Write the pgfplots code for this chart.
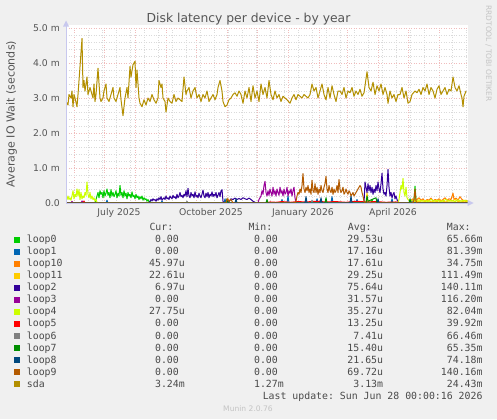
\documentclass[border=0pt]{standalone}
\usepackage{pgfplots}
\pgfplotsset{compat=1.18}
\usepackage{fontspec}
\setmainfont{DejaVu Sans}
\setmonofont{DejaVu Sans Mono}
\definecolor{bgc}{HTML}{F0F0F0}
\definecolor{majg}{HTML}{F0BCBC}
\definecolor{ming}{HTML}{DADADA}
\definecolor{axc}{HTML}{C8C8EE}
\definecolor{txc}{HTML}{555555}
\definecolor{lgc}{HTML}{4A4A4A}
\definecolor{faint}{HTML}{C4C4C4}
\definecolor{cA}{HTML}{00CC00}
\definecolor{cB}{HTML}{0066B3}
\definecolor{cC}{HTML}{FF8000}
\definecolor{cD}{HTML}{FFCC00}
\definecolor{cE}{HTML}{330099}
\definecolor{cF}{HTML}{990099}
\definecolor{cG}{HTML}{CCFF00}
\definecolor{cH}{HTML}{FF0000}
\definecolor{cI}{HTML}{808080}
\definecolor{cJ}{HTML}{008F00}
\definecolor{cK}{HTML}{00487D}
\definecolor{cL}{HTML}{B35A00}
\definecolor{cM}{HTML}{B38F00}
\tikzset{lg/.style={font=\ttfamily\fontsize{9.9}{12}\selectfont, inner sep=0pt, text=lgc}}
\newcommand\legrow[7]{%
  \fill[#2] (14,{#1-6}) rectangle (20,{#1});
  \node[lg,anchor=base west] at (26.7,#1) {#3};
  \node[lg,anchor=base east] at (185,#1) {#4};
  \node[lg,anchor=base east] at (284,#1) {#5};
  \node[lg,anchor=base east] at (383.3,#1) {#6};
  \node[lg,anchor=base east] at (482.7,#1) {#7};
}
\newcommand\z{0.00\phantom{u}}
\begin{document}
\begin{tikzpicture}
\begin{scope}[x=1bp,y=-1bp,yshift=419bp]
  \fill[bgc] (0,0) rectangle (497,419);
  \fill[white] (66,25) rectangle (468,203);
\end{scope}
\begin{axis}[
  at={(66bp,216bp)}, anchor=south west,
  scale only axis, width=402bp, height=175bp,
  xmin=0, xmax=402, ymin=0, ymax=5,
  axis line style={draw=none},
  tick style={draw=none},
  major tick length=0pt, minor tick length=0pt,
  xtick={8,38,69,100,130,161,191,222,253,281,312,342,373},
  xticklabels={},
  minor xtick={22,36,50,64,78,92,106,120,134,148,162,176,190,204,218,232,246,260,274,288,302,316,330,344,358,386,400},
  extra x ticks={53,145,237,327},
  extra x tick labels={July 2025,October 2025,January 2026,April 2026},
  extra x tick style={grid=none},
  ytick={0,1,2,3,4,5},
  yticklabels={0.0\hspace{7bp},1.0 m,2.0 m,3.0 m,4.0 m,5.0 m},
  minor ytick={0.2,0.4,0.6,0.8,1.2,1.4,1.6,1.8,2.2,2.4,2.6,2.8,3.2,3.4,3.6,3.8,4.2,4.4,4.6,4.8},
  grid=both,
  major grid style={draw=majg, line width=0.8bp, dash pattern=on 1bp off 1.5bp},
  minor grid style={draw=ming, line width=0.8bp, dash pattern=on 1bp off 1.5bp},
  xticklabel style={font=\fontsize{9.3}{11}\selectfont, text=txc, inner sep=0pt, anchor=north, yshift=-5bp},
  yticklabel style={font=\fontsize{9.3}{11}\selectfont, text=txc, inner sep=0pt, anchor=east, xshift=-6bp},
  every axis plot/.append style={line width=1bp, line join=round},
]
% loop0
\addplot[cA] coordinates {(0,0)(29,0)(30,0.1)(31,0.2)(32,0.3)(33,0.15)(34,0.35)(35,0.25)(36,0.3)(37,0.15)(38,0.35)(39,0.2)(40,0.28)(41,0.4)(42,0.22)(43,0.3)(44,0.15)(45,0.38)(46,0.2)(47,0.3)(48,0.18)(49,0.25)(50,0.35)(51,0.15)(52,0.28)(53,0.2)(54,0.5)(55,0.22)(56,0.3)(57,0.15)(58,0.35)(59,0.2)(60,0.28)(61,0.12)(62,0.3)(63,0.2)(64,0.25)(65,0.15)(66,0.32)(67,0.18)(68,0.22)(69,0.12)(70,0.25)(71,0.15)(72,0.2)(73,0.1)(74,0.18)(75,0.12)(76,0.2)(77,0.08)(78,0.15)(79,0.1)(80,0.12)(81,0.05)(82,0.1)(83,0.03)(84,0.05)(85,0)(305,0)(306,0.1)(307,0)(347,0)(348,0.1)(349,0.48)(350,0.1)(351,0)(402,0)};
% loop1
\addplot[cB] coordinates {(0,0)(40,0)(41,0.08)(42,0)(95,0)(96,0.06)(97,0)(158,0)(159,0.12)(160,0)(215,0)(216,0.1)(217,0)(221,0)(222,0.2)(223,0)(250,0)(251,0.12)(252,0)(265,0)(266,0.18)(267,0)(290,0)(291,0.1)(292,0)(325,0)(326,0.12)(327,0)(402,0)};
% loop10
\addplot[cC] coordinates {(0,0)(160,0)(161,0.08)(162,0.12)(163,0.05)(164,0)(344,0)(345,0.08)(347,0.12)(349,0.06)(351,0.1)(353,0.15)(355,0.08)(357,0.12)(359,0.05)(361,0.1)(363,0.08)(365,0.14)(367,0.06)(369,0.1)(371,0.08)(373,0.12)(375,0.06)(377,0.1)(379,0.15)(381,0.08)(383,0.12)(385,0.1)(387,0.28)(388,0.1)(390,0.14)(392,0.08)(394,0.18)(396,0.1)(398,0.06)(400,0.08)(402,0.05)};
% loop11
\addplot[cD] coordinates {(0,0)(300,0)(301,0.3)(302,0.05)(303,0)(343,0)(344,0.05)(346,0.08)(348,0.04)(350,0.06)(353,0.03)(356,0.07)(359,0.04)(362,0.08)(365,0.03)(368,0.06)(371,0.04)(374,0.09)(377,0.05)(380,0.03)(383,0.07)(386,0.05)(389,0.1)(392,0.04)(395,0.06)(398,0.03)(402,0.05)};
% loop2
\addplot[cE] coordinates {(0,0)(83,0)(84,0.05)(85,0.1)(86,0.06)(87,0.12)(88,0.08)(89,0.1)(90,0.05)(91,0.12)(92,0.08)(93,0.15)(94,0.1)(95,0.18)(96,0.08)(97,0.12)(98,0.15)(99,0.1)(100,0.2)(101,0.12)(102,0.15)(103,0.1)(104,0.2)(105,0.15)(106,0.12)(107,0.22)(108,0.15)(109,0.18)(110,0.12)(111,0.25)(112,0.15)(113,0.2)(114,0.3)(115,0.18)(116,0.22)(117,0.15)(118,0.25)(119,0.2)(120,0.35)(121,0.18)(122,0.42)(123,0.2)(124,0.15)(125,0.3)(126,0.2)(127,0.25)(128,0.15)(129,0.32)(130,0.18)(131,0.22)(132,0.15)(133,0.28)(134,0.2)(135,0.15)(136,0.25)(137,0.37)(138,0.2)(139,0.15)(140,0.28)(141,0.18)(142,0.3)(143,0.15)(144,0.25)(145,0.2)(146,0.32)(147,0.18)(148,0.25)(149,0.2)(150,0.3)(151,0.15)(152,0.22)(153,0.3)(154,0.18)(155,0.35)(156,0.38)(157,0.05)(158,0)(162,0)(163,0.05)(165,0.12)(167,0.1)(169,0.14)(171,0.1)(173,0.13)(175,0.1)(177,0.15)(179,0.12)(181,0.1)(183,0.14)(185,0.1)(187,0.05)(189,0.02)(190,0)(298,0)(299,0.6)(300,0.45)(301,0.3)(302,0.55)(303,0.35)(304,0.5)(305,0.3)(306,0.45)(307,0.25)(308,0.4)(309,0.3)(310,0.5)(311,0.35)(312,0.6)(313,0.4)(314,0.3)(315,0.55)(316,0.85)(317,0.4)(318,0.25)(319,0.3)(320,0.2)(321,0.5)(322,0.96)(323,0.45)(324,0.2)(325,0.3)(326,0.15)(327,0.25)(328,0.3)(329,0.12)(330,0.2)(331,0.1)(332,0.05)(333,0)(402,0)};
% loop3
\addplot[cF] coordinates {(0,0)(5,0)(6,0.05)(7,0)(15,0)(16,0.06)(17,0.02)(18,0)(192,0)(193,0.1)(195,0.2)(196,0.35)(197,0.25)(198,0.5)(199,0.62)(200,0.3)(201,0.2)(202,0.35)(203,0.22)(204,0.4)(205,0.3)(206,0.2)(207,0.45)(208,0.25)(209,0.35)(210,0.2)(211,0.4)(212,0.3)(213,0.22)(214,0.45)(215,0.28)(216,0.35)(217,0.2)(218,0.4)(219,0.25)(220,0.3)(221,0.45)(222,0.2)(223,0.35)(224,0.28)(225,0.4)(226,0.2)(227,0.35)(228,0.45)(229,0.15)(230,0)(402,0)};
% loop4
\addplot[cG] coordinates {(0,0.25)(1,0.1)(2,0.2)(3,0.1)(4,0.15)(5,0.08)(6,0.2)(7,0.35)(8,0.12)(9,0.25)(10,0.18)(11,0.4)(12,0.2)(13,0.38)(14,0.1)(15,0.3)(16,0.12)(17,0.2)(18,0.15)(19,0.3)(20,0.22)(21,0.6)(22,0.25)(23,0.15)(24,0.3)(25,0.12)(26,0.2)(27,0.1)(28,0.15)(29,0.05)(30,0.1)(31,0.02)(33,0)(332,0)(333,0.1)(334,0.3)(335,0.5)(336,0.4)(337,0.7)(338,0.3)(339,0.2)(340,0.45)(341,0.15)(342,0.1)(344,0.05)(347,0.08)(350,0.04)(353,0.09)(356,0.05)(359,0.07)(362,0.04)(365,0.1)(368,0.05)(371,0.08)(374,0.04)(377,0.06)(380,0.1)(383,0.05)(386,0.07)(389,0.04)(392,0.09)(395,0.05)(398,0.08)(402,0.05)};
% loop5
\addplot[cH] coordinates {(0,0)(17,0)(18,0.06)(19,0)(200,0)(204,0.03)(210,0.02)(216,0.04)(224,0.02)(232,0.04)(240,0.03)(250,0.05)(260,0.03)(270,0.04)(280,0.02)(290,0.05)(300,0.03)(310,0.04)(320,0.02)(330,0.03)(335,0)(402,0)};
% loop6
\addplot[cI] coordinates {(0,0)(120,0)(121,0.05)(122,0)(245,0)(246,0.08)(247,0)(345,0)(346,0.06)(347,0)(402,0)};
% loop7
\addplot[cJ] coordinates {(0,0)(160,0)(161,0.12)(162,0)(200,0)(201,0.1)(202,0)(259,0)(260,0.15)(261,0)(300,0)(301,0.2)(302,0.05)(310,0.15)(311,0)(343,0)(344,0.12)(345,0)(402,0)};
% loop8
\addplot[cK] coordinates {(0,0)(169,0)(170,0.12)(171,0)(239,0)(240,0.18)(241,0)(254,0)(255,0.15)(256,0)(284,0)(285,0.2)(286,0)(311,0)(312,0.12)(313,0)(402,0)};
% loop9
\addplot[cL] coordinates {(0,0)(160,0)(161,0.12)(163,0.05)(165,0.1)(167,0)(229,0)(230,0.05)(231,0.2)(232,0.3)(233,0.25)(234,0.4)(235,0.3)(236,0.5)(237,0.84)(238,0.4)(239,0.3)(240,0.45)(241,0.35)(242,0.5)(243,0.3)(244,0.4)(245,0.25)(246,0.65)(247,0.35)(248,0.3)(249,0.55)(250,0.3)(251,0.45)(252,0.25)(253,0.4)(254,0.3)(255,0.5)(256,0.35)(257,0.3)(258,0.45)(259,0.55)(260,0.76)(261,0.4)(262,0.3)(263,0.5)(264,0.35)(265,0.3)(266,0.45)(267,0.25)(268,0.4)(269,0.3)(270,0.35)(271,0.5)(272,0.3)(273,0.67)(274,0.4)(275,0.3)(276,0.35)(277,0.45)(278,0.25)(279,0.3)(280,0.4)(281,0.3)(282,0.25)(283,0.35)(284,0.3)(285,0.2)(286,0.25)(287,0.3)(288,0.2)(289,0.25)(290,0.3)(291,0.35)(292,0.4)(293,0.45)(294,0.5)(295,0.45)(296,0.3)(297,0.2)(298,0.05)(299,0)(347,0)(348,0.1)(349,0.4)(350,0.05)(351,0)(402,0)};
% sda
\addplot[cM] coordinates {(0,2.90)(2,2.80)(3,3.10)(5,3.00)(6,3.20)(7,2.75)(8,3.10)(9,3.00)(11,2.75)(12,3.10)(13,3.50)(15,4.30)(16,4.70)(17,3.30)(18,3.50)(19,3.20)(21,3.60)(22,3.10)(24,3.30)(25,3.20)(27,3.00)(28,3.40)(29,2.90)(30,3.10)(32,3.85)(34,3.00)(35,2.90)(37,3.00)(38,3.20)(40,3.40)(41,3.00)(43,2.90)(45,3.10)(47,3.30)(48,3.00)(50,2.90)(52,3.10)(54,3.30)(55,2.95)(57,2.50)(59,3.00)(61,3.30)(62,3.00)(64,3.90)(65,3.60)(67,3.95)(69,4.05)(70,3.30)(71,3.80)(73,3.00)(74,2.85)(76,2.75)(78,2.95)(80,2.80)(82,3.00)(84,2.90)(86,3.10)(88,2.95)(90,2.85)(92,3.00)(93,3.50)(95,3.30)(96,3.40)(97,3.00)(99,2.90)(100,2.60)(102,3.00)(104,2.90)(106,2.85)(108,3.10)(110,2.90)(112,3.00)(114,2.95)(116,2.90)(118,3.60)(120,3.10)(121,3.20)(123,3.30)(125,3.00)(127,3.20)(129,3.30)(131,3.00)(133,3.10)(135,2.90)(137,3.10)(139,3.00)(141,3.20)(143,2.90)(145,3.00)(147,3.10)(149,2.95)(151,3.10)(152,3.30)(154,3.50)(156,3.20)(157,2.90)(159,2.75)(161,2.80)(163,2.95)(165,3.00)(167,3.10)(169,3.15)(171,3.05)(173,3.20)(175,3.10)(177,2.85)(179,3.20)(181,3.00)(183,3.30)(185,2.90)(187,3.35)(189,3.00)(191,3.20)(193,2.90)(195,3.40)(197,3.10)(199,3.30)(201,3.00)(203,3.50)(205,3.10)(207,2.95)(209,3.20)(211,3.00)(213,3.10)(215,2.90)(217,3.05)(219,3.00)(221,2.95)(224,2.85)(226,3.00)(228,3.10)(230,2.95)(232,3.10)(234,3.05)(236,3.00)(238,3.10)(240,3.05)(242,3.00)(244,3.10)(246,3.40)(248,3.20)(250,3.30)(252,3.00)(254,3.20)(256,3.40)(258,3.10)(260,2.95)(262,3.30)(264,3.00)(266,3.35)(268,3.10)(270,2.90)(272,3.20)(274,3.20)(276,3.10)(278,3.30)(280,3.00)(282,3.20)(284,3.15)(286,3.30)(288,3.05)(290,3.20)(292,3.10)(294,3.25)(296,3.05)(298,3.15)(301,3.75)(303,3.30)(305,3.20)(307,3.45)(309,3.10)(311,3.35)(313,3.20)(315,3.40)(317,3.10)(319,3.30)(321,3.10)(322,2.85)(324,3.20)(326,3.00)(328,3.10)(330,2.90)(332,3.10)(334,3.10)(336,3.30)(338,3.00)(340,3.20)(342,2.85)(344,2.90)(346,3.10)(349,3.20)(351,3.15)(353,3.25)(355,3.10)(357,3.30)(359,3.20)(361,3.40)(363,3.10)(365,3.30)(367,3.20)(369,3.00)(371,3.25)(373,3.35)(375,3.10)(377,3.20)(379,3.30)(381,3.10)(383,3.25)(385,3.20)(387,3.60)(389,3.30)(391,3.20)(393,3.35)(395,3.10)(396,3.00)(397,2.75)(398,3.05)(400,3.20)};
\end{axis}
\begin{scope}[x=1bp,y=-1bp,yshift=419bp]
  % axes
  \draw[axc, line width=1bp] (66,203) -- (66,26);
  \fill[axc] (63,26.5) -- (69,26.5) -- (66,20.5) -- cycle;
  \draw[axc, line width=1bp] (66,203) -- (468,203);
  \fill[axc] (467.5,200) -- (467.5,206) -- (473.5,203) -- cycle;
  % titles
  \node[anchor=base, inner sep=0pt, text=txc, font=\fontsize{12.4}{14}\selectfont] at (248.5,22.3) {Disk latency per device - by year};
  \node[rotate=90, inner sep=0pt, text=txc, font=\fontsize{11.1}{13}\selectfont] at (11.5,114) {Average IO Wait (seconds)};
  \node[rotate=-90, inner sep=0pt, text=faint, font=\fontsize{7.5}{9}\selectfont] at (488.5,53.5) {RRDTOOL / TOBI OETIKER};
  % legend
  \node[lg,anchor=base west] at (149.3,230.5) {Cur:};
  \node[lg,anchor=base west] at (248.3,230.5) {Min:};
  \node[lg,anchor=base west] at (347.7,230.5) {Avg:};
  \node[lg,anchor=base west] at (446.7,230.5) {Max:};
  \legrow{242.6}{cA}{loop0}{\z}{\z}{29.53u}{65.66m}
  \legrow{254.65}{cB}{loop1}{\z}{\z}{17.16u}{81.39m}
  \legrow{266.7}{cC}{loop10}{45.97u}{\z}{17.61u}{34.75m}
  \legrow{278.75}{cD}{loop11}{22.61u}{\z}{29.25u}{111.49m}
  \legrow{290.8}{cE}{loop2}{6.97u}{\z}{75.64u}{140.11m}
  \legrow{302.85}{cF}{loop3}{\z}{\z}{31.57u}{116.20m}
  \legrow{314.9}{cG}{loop4}{27.75u}{\z}{35.27u}{82.04m}
  \legrow{326.95}{cH}{loop5}{\z}{\z}{13.25u}{39.92m}
  \legrow{339.0}{cI}{loop6}{\z}{\z}{7.41u}{66.46m}
  \legrow{351.05}{cJ}{loop7}{\z}{\z}{15.40u}{65.35m}
  \legrow{363.1}{cK}{loop8}{\z}{\z}{21.65u}{74.18m}
  \legrow{375.15}{cL}{loop9}{\z}{\z}{69.72u}{140.16m}
  \legrow{387.2}{cM}{sda}{3.24m}{1.27m}{3.13m}{24.43m}
  \node[lg,anchor=base east] at (482.7,399.3) {Last update: Sun Jun 28 00:00:16 2026};
  \node[anchor=base, inner sep=0pt, text=faint, font=\fontsize{7.6}{9}\selectfont] at (248,411) {Munin 2.0.76};
\end{scope}
\end{tikzpicture}
\end{document}
